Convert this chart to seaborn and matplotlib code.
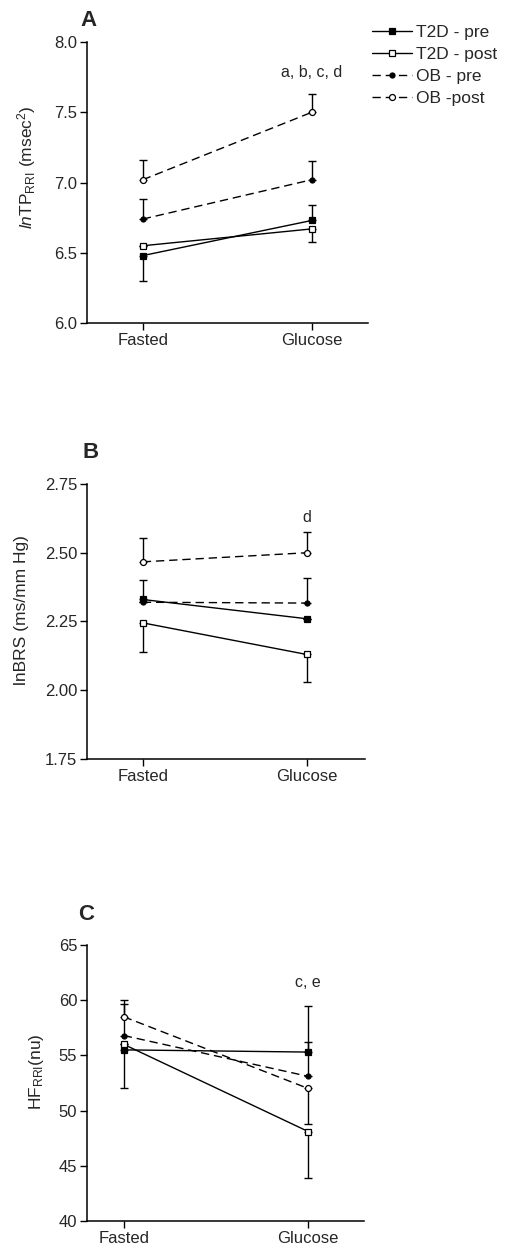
import pandas as pd
import seaborn as sns
import matplotlib.pyplot as plt
import numpy as np

sns.set_style('ticks')
plt.rcParams['font.family'] = ['Liberation Sans', 'DejaVu Sans']
plt.rcParams['mathtext.fontset'] = 'custom'
plt.rcParams['mathtext.rm'] = 'Liberation Sans'
plt.rcParams['mathtext.it'] = 'Liberation Sans:italic'
plt.rcParams['font.size'] = 12

# Data
conditions = ['Fasted', 'Glucose']
groups = ['T2D - pre', 'T2D - post', 'OB - pre', 'OB -post']

# panel A: lnTP RRI
tp_mean = {'T2D - pre': [6.48, 6.73], 'T2D - post': [6.55, 6.67],
           'OB - pre': [6.74, 7.02], 'OB -post': [7.02, 7.50]}
tp_lo = {'T2D - pre': [0.18, 0.0], 'T2D - post': [0.0, 0.09],
         'OB - pre': [0.0, 0.0], 'OB -post': [0.0, 0.0]}
tp_hi = {'T2D - pre': [0.0, 0.11], 'T2D - post': [0.0, 0.0],
         'OB - pre': [0.14, 0.13], 'OB -post': [0.14, 0.13]}

# panel B: lnBRS
brs_mean = {'T2D - pre': [2.33, 2.26], 'T2D - post': [2.245, 2.13],
            'OB - pre': [2.32, 2.317], 'OB -post': [2.467, 2.50]}
brs_lo = {'T2D - pre': [0.0, 0.0], 'T2D - post': [0.105, 0.10],
          'OB - pre': [0.0, 0.0], 'OB -post': [0.0, 0.0]}
brs_hi = {'T2D - pre': [0.07, 0.0], 'T2D - post': [0.0, 0.0],
          'OB - pre': [0.0, 0.09], 'OB -post': [0.085, 0.077]}

# panel C: HF RRI
hf_mean = {'T2D - pre': [55.5, 55.3], 'T2D - post': [56.0, 48.1],
           'OB - pre': [56.8, 53.1], 'OB -post': [58.5, 52.0]}
hf_lo = {'T2D - pre': [3.5, 0.0], 'T2D - post': [0.0, 4.2],
         'OB - pre': [0.0, 0.0], 'OB -post': [0.0, 3.2]}
hf_hi = {'T2D - pre': [0.0, 4.2], 'T2D - post': [0.0, 0.0],
         'OB - pre': [2.9, 3.1], 'OB -post': [1.5, 0.0]}

styles = {
    'T2D - pre': dict(marker='s', mfc='black', ms=4.0, ls='-'),
    'T2D - post': dict(marker='s', mfc='white', ms=4.7, ls='-'),
    'OB - pre': dict(marker='o', mfc='black', ms=3.6, ls='--'),
    'OB -post': dict(marker='o', mfc='white', ms=4.3, ls='--'),
}

fig = plt.figure(figsize=(5.05, 12.52), dpi=100)
axA = fig.add_axes([0.172, 0.742, 0.556, 0.2244])
axB = fig.add_axes([0.172, 0.3938, 0.5505, 0.2196])
axC = fig.add_axes([0.172, 0.0248, 0.548, 0.2204])

xpos = np.arange(len(conditions))


def draw(ax, mean, lo, hi):
    for g in groups:
        st = styles[g]
        df = pd.DataFrame({'x': xpos, 'y': mean[g]})
        sns.lineplot(data=df, x='x', y='y', ax=ax, color='black', lw=1,
                     marker=st['marker'], markersize=st['ms'],
                     markerfacecolor=st['mfc'], markeredgecolor='black',
                     markeredgewidth=0.9, label=g, legend=False, zorder=3)
        if st['ls'] == '--':
            ax.lines[-1].set_dashes((6, 3.5))
        ax.errorbar(xpos, mean[g], yerr=[lo[g], hi[g]], fmt='none', ecolor='black',
                    elinewidth=1, capsize=3, capthick=1, zorder=2)
    ax.set_xticks(xpos)
    ax.set_xticklabels(conditions)
    ax.set_xlabel('')
    sns.despine(ax=ax)
    ax.tick_params(direction='out', length=5, width=1, color='black', labelsize=12, pad=2)
    for s in ['left', 'bottom']:
        ax.spines[s].set_linewidth(1.1)
        ax.spines[s].set_color('black')


draw(axA, tp_mean, tp_lo, tp_hi)
axA.set_xlim(-0.331, 1.331)
axA.set_ylim(6.0, 8.0)
axA.set_yticks([6.0, 6.5, 7.0, 7.5, 8.0])
axA.set_yticklabels(['6.0', '6.5', '7.0', '7.5', '8.0'])
axA.set_ylabel(r'$\it{ln}$TP$_{\rm RRI}$ (msec$^{2}$)', fontsize=12.5)
axA.yaxis.set_label_coords(-0.175, 0.555)
axA.text(1, 7.78, 'a, b, c, d', ha='center', va='center', fontsize=11.5)

draw(axB, brs_mean, brs_lo, brs_hi)
axB.set_xlim(-0.341, 1.354)
axB.set_ylim(1.75, 2.75)
axB.set_yticks([1.75, 2.00, 2.25, 2.50, 2.75])
axB.set_yticklabels(['1.75', '2.00', '2.25', '2.50', '2.75'])
axB.set_ylabel('lnBRS (ms/mm Hg)', fontsize=12.5)
axB.yaxis.set_label_coords(-0.208, 0.54)
axB.text(1, 2.63, 'd', ha='center', va='center', fontsize=11.5)

draw(axC, hf_mean, hf_lo, hf_hi)
axC.set_xlim(-0.20, 1.30)
axC.set_ylim(40, 65)
axC.set_yticks([40, 45, 50, 55, 60, 65])
axC.set_ylabel(r'HF$_{\rm RRI}$(nu)', fontsize=12.5)
axC.yaxis.set_label_coords(-0.148, 0.54)
axC.text(1, 61.6, 'c, e', ha='center', va='center', fontsize=11.5)

for lab, x, y in [('A', 80, 20), ('B', 82, 453), ('C', 78, 915)]:
    fig.text(x / 505, 1 - y / 1252, lab, fontsize=16, fontweight='bold', va='center')

handles, labels = axA.get_legend_handles_labels()
fig.legend(handles, labels, loc='upper left', bbox_to_anchor=(372 / 505, 1 - 25 / 1252),
           frameon=False, handlelength=2.3, handletextpad=0.25, labelspacing=0.4,
           borderpad=0, borderaxespad=0, fontsize=12.5)

fig.savefig('out.png', dpi=100)
